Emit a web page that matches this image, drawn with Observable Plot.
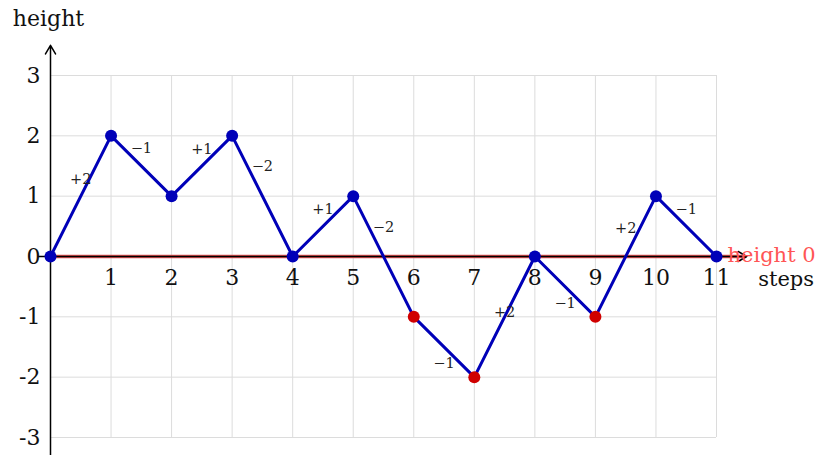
<!DOCTYPE html>
<html>
<head>
<meta charset="utf-8">
<script src="https://cdn.jsdelivr.net/npm/d3@7"></script>
<script src="https://cdn.jsdelivr.net/npm/@observablehq/plot@0.6"></script>
<style>
  html, body { margin: 0; padding: 0; background: #fff; }
  #chart { width: 823px; height: 455px; }
  svg { font-family: "DejaVu Serif", serif; }
</style>
</head>
<body>
<div id="chart"></div>
<script>
// ---- data ----
const steps = [0, 1, 2, 3, 4, 5, 6, 7, 8, 9, 10, 11];
const heights = [0, 2, 1, 2, 0, 1, -1, -2, 0, -1, 1, 0];
const stepLabels = ["+2", "\u22121", "+1", "\u22122", "+1", "\u22122", "\u22121", "+2", "\u22121", "+2", "\u22121"];
const xTicks = [1, 2, 3, 4, 5, 6, 7, 8, 9, 10, 11];
const yTicks = [-3, -2, -1, 0, 1, 2, 3];
const yTickLabels = ["-3", "-2", "-1", "0", "1", "2", "3"];

// ---- build ----
const pts = steps.map((s, i) => ({x: s, y: heights[i], neg: heights[i] < 0}));
// label placement (layout only): vertical shift from each segment's midpoint
const labelShift = [0.28, 0.29, 0.27, 0.49, 0.28, 0.48, -0.27, 0.07, -0.28, 0.46, 0.28];
const segLabels = stepLabels.map((t, i) => ({
  x: (steps[i] + steps[i + 1]) / 2,
  y: (heights[i] + heights[i + 1]) / 2 + labelShift[i],
  t
}));

const blue = "#0000b8";
const red = "#d00000";
const grid = "#dcdcdc";

const chart = Plot.plot({
  width: 823,
  height: 455,
  marginLeft: 50,
  marginRight: 107,
  marginTop: 75,
  marginBottom: 18,
  x: {type: "linear", domain: [0, 11], axis: null},
  y: {type: "linear", domain: [-3, 3], axis: null},
  style: {fontFamily: "DejaVu Serif, serif", background: "white"},
  marks: [
    // grid
    Plot.ruleX(xTicks, {x: d => d, y1: -3, y2: 3, stroke: grid, strokeWidth: 1}),
    Plot.ruleY(yTicks, {y: d => d, x1: 0, x2: 11, stroke: grid, strokeWidth: 1}),
    // red height-0 line under the axis
    Plot.ruleY([0], {y: d => d, x1: 0, x2: 11.45, stroke: "#e05050", strokeWidth: 3.5}),
    // axes with arrows
    Plot.arrow([0], {x1: 0, y1: 0, x2: 11.5, y2: 0, stroke: "black", strokeWidth: 1.5, headLength: 10, bend: 0}),
    Plot.arrow([0], {x1: 0, y1: -3.32, x2: 0, y2: 3.5, stroke: "black", strokeWidth: 1.5, headLength: 10, bend: 0}),
    // tick at zero
    Plot.ruleY([0], {y: d => d, x1: -0.2, x2: 0, stroke: "black", strokeWidth: 1.5}),
    // path
    Plot.line(pts, {x: "x", y: "y", stroke: blue, strokeWidth: 3}),
    Plot.dot(pts, {x: "x", y: "y", r: 6, fill: d => d.neg ? red : blue, stroke: "none"}),
    // step labels
    Plot.text(segLabels, {x: "x", y: "y", text: "t", fontSize: 14.5, fill: "#222"}),
    // tick labels
    Plot.text(xTicks, {x: d => d, y: 0, dy: 21, text: d => String(d), fontSize: 22, fill: "#111"}),
    Plot.text(yTicks, {x: 0, y: d => d, dx: -10, text: (d, i) => yTickLabels[i], textAnchor: "end", fontSize: 22, fill: "#111"}),
    // axis titles
    Plot.text(["height"], {x: 0, y: 3.94, dx: -2, text: d => d, fontSize: 22, fill: "#111"}),
    Plot.text(["steps"], {x: 12.15, y: -0.37, text: d => d, fontSize: 21, fill: "#111"}),
    Plot.text(["height 0"], {x: 11, y: 0, dx: 11, dy: -1, text: d => d, textAnchor: "start", fontSize: 21, fill: "#ff5555"})
  ]
});
document.getElementById("chart").appendChild(chart);
</script>
</body>
</html>
